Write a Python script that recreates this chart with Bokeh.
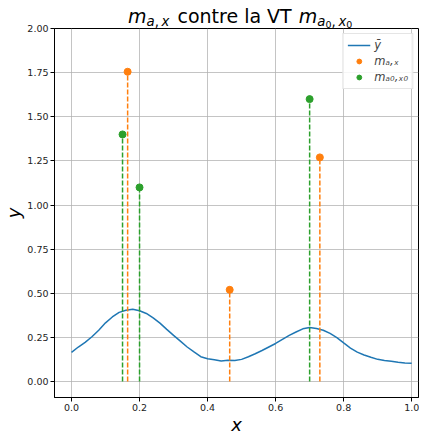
from bokeh.plotting import figure
from bokeh.layouts import column
from bokeh.models import (Range1d, FixedTicker, PrintfTickFormatter,
                          Legend, LegendItem, Div)
from bokeh.embed import file_html
from bokeh.resources import INLINE

# ---- data -------------------------------------------------------------
x_curve = [0.00, 0.02, 0.04, 0.06, 0.08, 0.10, 0.12, 0.14, 0.16, 0.18,
           0.20, 0.22, 0.24, 0.26, 0.28, 0.30, 0.32, 0.34, 0.36, 0.38,
           0.40, 0.42, 0.44, 0.46, 0.48, 0.50, 0.52, 0.54, 0.56, 0.58,
           0.60, 0.62, 0.64, 0.66, 0.68, 0.70, 0.72, 0.74, 0.76, 0.78,
           0.80, 0.82, 0.84, 0.86, 0.88, 0.90, 0.92, 0.94, 0.96, 0.98, 1.00]
y_bar = [0.166, 0.196, 0.222, 0.254, 0.291, 0.333, 0.366, 0.392, 0.404, 0.410,
         0.401, 0.386, 0.361, 0.331, 0.296, 0.262, 0.229, 0.196, 0.168, 0.141,
         0.129, 0.124, 0.117, 0.121, 0.119, 0.126, 0.141, 0.158, 0.176, 0.196,
         0.216, 0.239, 0.262, 0.281, 0.299, 0.306, 0.301, 0.291, 0.273, 0.249,
         0.219, 0.190, 0.167, 0.151, 0.138, 0.126, 0.120, 0.115, 0.110, 0.106, 0.104]

x_est = [0.165, 0.465, 0.730]     # m_{a,x}
m_est = [1.755, 0.520, 1.270]
x_true = [0.150, 0.200, 0.700]    # m_{a0,x0}
m_true = [1.400, 1.100, 1.600]

x_ticks = [0.0, 0.2, 0.4, 0.6, 0.8, 1.0]
y_ticks = [0.0, 0.25, 0.5, 0.75, 1.0, 1.25, 1.5, 1.75, 2.0]

legend_labels = ["ȳ", "mₐ,ₓ", "mₐ₀,ₓ₀"]
title_words = "contre la VT"

# ---- style ------------------------------------------------------------
BLUE, ORANGE, GREEN = "#1f77b4", "#ff7f0e", "#2ca02c"
FONT = "DejaVu Sans"
W = 419
TH = 22           # height of the title strip
TOTAL_H = 437

SUB = "font-size:13.3px;position:relative;top:3px;"
SUB2 = "font-size:9.5px;font-style:normal;position:relative;top:1.5px;"
title_html = (
    '<div style="font-family:\'DejaVu Sans\';font-size:19px;line-height:19px;'
    'white-space:nowrap;color:black;margin:0;padding:7px 0 0 128px;">'
    '<i>m</i>'
    f'<span style="{SUB}"><i>a</i>,&thinsp;<i>x</i></span>'
    f'<span style="margin-left:2px;"> {title_words} </span>'
    '<i style="margin-left:1px;">m</i>'
    f'<span style="{SUB}"><i>a</i><span style="{SUB2}">0</span>,'
    f'&thinsp;<i>x</i><span style="{SUB2}">0</span></span>'
    '</div>'
)
title_div = Div(text=title_html, width=W, height=TH, margin=(0, 0, 0, 0),
                styles={"overflow": "visible", "z-index": "2"})

p = figure(width=W, height=TOTAL_H - TH, output_backend="svg", toolbar_location=None,
           title=None, x_range=Range1d(-0.05, 1.02), y_range=Range1d(-0.09, 2.0),
           min_border_left=48, min_border_right=1, min_border_top=6,
           min_border_bottom=0)
p.background_fill_color = "white"
p.border_fill_color = None
p.outline_line_color = "black"
p.outline_line_width = 1
p.outline_line_alpha = 1

p.xaxis.ticker = FixedTicker(ticks=x_ticks)
p.yaxis.ticker = FixedTicker(ticks=y_ticks)
p.xaxis.formatter = PrintfTickFormatter(format="%.1f")
p.yaxis.formatter = PrintfTickFormatter(format="%.2f")
for ax in (p.xaxis[0], p.yaxis[0]):
    ax.major_tick_out = 4
    ax.major_tick_in = 0
    ax.minor_tick_out = 0
    ax.minor_tick_in = 0
    ax.major_tick_line_color = "black"
    ax.axis_line_color = "black"
    ax.major_label_text_font = FONT
    ax.major_label_text_font_size = "9.5px"
    ax.major_label_text_color = "#222222"
    ax.major_label_standoff = 2
    ax.axis_label_text_font = FONT
    ax.axis_label_text_font_size = "18px"
    ax.axis_label_text_font_style = "italic"
    ax.axis_label_text_color = "black"
    ax.axis_label_standoff = 0
p.xaxis.axis_label = "x"
p.yaxis.axis_label = "y"

p.grid.grid_line_color = "#b0b0b0"
p.grid.grid_line_alpha = 0.75
p.grid.grid_line_width = 1

# ---- glyphs -----------------------------------------------------------
r_line = p.line(x_curve, y_bar, line_color=BLUE, line_width=1.5)
p.segment(x0=x_est, y0=[0] * len(x_est), x1=x_est, y1=m_est,
          line_color=ORANGE, line_width=1.5, line_dash="5 2")
p.segment(x0=x_true, y0=[0] * len(x_true), x1=x_true, y1=m_true,
          line_color=GREEN, line_width=1.5, line_dash="5 2")
r_est = p.scatter(x_est, m_est, size=7, fill_color=ORANGE, line_color=ORANGE)
r_true = p.scatter(x_true, m_true, size=7, fill_color=GREEN, line_color=GREEN)

legend = Legend(items=[LegendItem(label=legend_labels[0], renderers=[r_line]),
                       LegendItem(label=legend_labels[1], renderers=[r_est]),
                       LegendItem(label=legend_labels[2], renderers=[r_true])],
                location="top_right")
legend.label_text_font = FONT
legend.label_text_font_size = "11.5px"
legend.label_text_font_style = "italic"
legend.glyph_width = 23
legend.glyph_height = 12
legend.label_height = 12
legend.label_standoff = 4
legend.spacing = 2
legend.padding = 4
legend.margin = 5
legend.border_line_color = "#cccccc"
legend.border_line_width = 1
legend.background_fill_alpha = 0.85
p.add_layout(legend)

layout = column(title_div, p)
open("out.html", "w").write(file_html(layout, INLINE))
